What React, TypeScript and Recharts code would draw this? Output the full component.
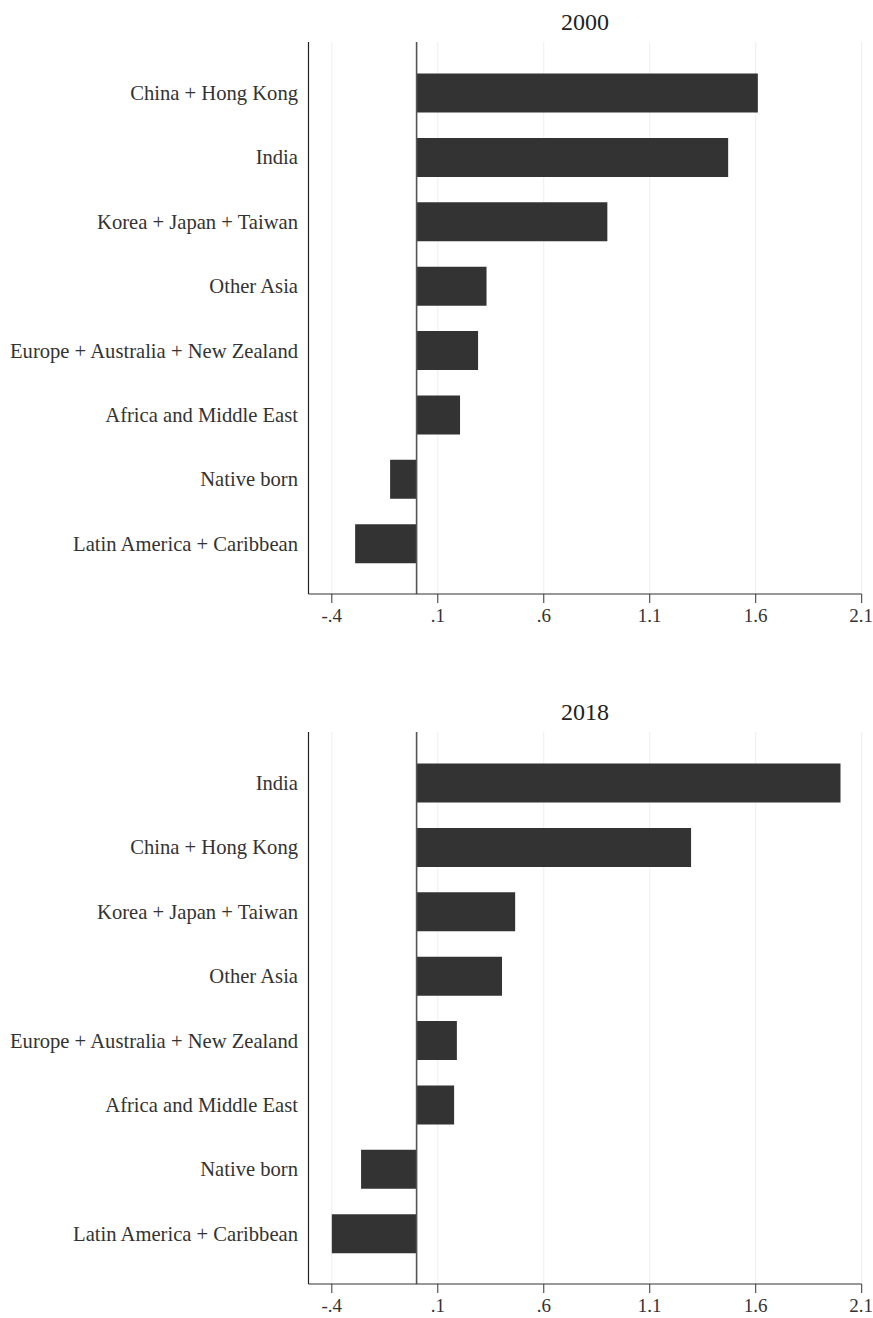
import React from "react";
import { BarChart, Bar, XAxis, YAxis, CartesianGrid, ReferenceLine } from "recharts";

const categories2000 = [
  "China + Hong Kong",
  "India",
  "Korea + Japan + Taiwan",
  "Other Asia",
  "Europe + Australia + New Zealand",
  "Africa and Middle East",
  "Native born",
  "Latin America + Caribbean",
];
const values2000 = [1.61, 1.47, 0.9, 0.33, 0.29, 0.205, -0.125, -0.29];

const categories2018 = [
  "India",
  "China + Hong Kong",
  "Korea + Japan + Taiwan",
  "Other Asia",
  "Europe + Australia + New Zealand",
  "Africa and Middle East",
  "Native born",
  "Latin America + Caribbean",
];
const values2018 = [2.0, 1.295, 0.465, 0.403, 0.19, 0.177, -0.262, -0.4];

const xTicks = [-0.4, 0.1, 0.6, 1.1, 1.6, 2.1];
const xTickLabels = ["-.4", ".1", ".6", "1.1", "1.6", "2.1"];
const xDomain = [-0.51, 2.1];

const FONT = "'Liberation Serif', 'Times New Roman', serif";

const fmt = (v: number) => {
  const i = xTicks.findIndex((t) => Math.abs(t - v) < 1e-6);
  return i >= 0 ? xTickLabels[i] : String(v);
};

function Panel({ title, cats, vals, height, top }: { title: string; cats: string[]; vals: number[]; height: number; top: number }) {
  const data = cats.map((c, i) => ({ name: c, value: vals[i] }));
  const plotTop = 42;
  const plotH = 552;
  const xAxisH = 30;
  const bottom = height - plotTop - plotH - xAxisH;
  return (
    <div style={{ position: "absolute", left: 0, top, width: 873, height }}>
      <div
        style={{
          position: "absolute",
          left: 308.5,
          width: 553,
          top: 10,
          textAlign: "center",
          fontFamily: FONT,
          fontSize: 24,
          lineHeight: "24px",
          color: "#222",
        }}
      >
        {title}
      </div>
      <BarChart
        width={873}
        height={height}
        data={data}
        layout="vertical"
        margin={{ top: plotTop, right: 11.3, bottom, left: 8.5 }}
      >
        <CartesianGrid horizontal={false} vertical={true} stroke="#eeeeee" strokeWidth={1} />
        <XAxis
          type="number"
          dataKey="value"
          domain={xDomain}
          ticks={xTicks}
          allowDataOverflow
          tickFormatter={fmt}
          height={xAxisH}
          tickSize={9}
          tickMargin={6}
          stroke="#333"
          tickLine={{ stroke: "#333" }}
          axisLine={{ stroke: "#333", strokeWidth: 1.2 }}
          tick={{ fontFamily: FONT, fontSize: 19, fill: "#333" }}
        />
        <YAxis
          type="category"
          dataKey="name"
          width={300}
          tickLine={false}
          tickSize={0}
          tickMargin={10.5}
          padding={{ top: 18.5, bottom: 18.5 }}
          interval={0}
          axisLine={{ stroke: "#222", strokeWidth: 1.2 }}
          tick={{ fontFamily: FONT, fontSize: 20.6, fill: "#333" }}
        />
        <ReferenceLine x={0} stroke="#555" strokeWidth={1.6} />
        <Bar dataKey="value" fill="#333333" barSize={39} isAnimationActive={false} />
      </BarChart>
    </div>
  );
}

export default function App() {
  return (
    <div style={{ position: "absolute", left: 0, top: 0, width: 873, height: 1318, background: "#fff" }}>
      <Panel title="2000" cats={categories2000} vals={values2000} height={690} top={0} />
      <Panel title="2018" cats={categories2018} vals={values2018} height={628} top={690} />
    </div>
  );
}
